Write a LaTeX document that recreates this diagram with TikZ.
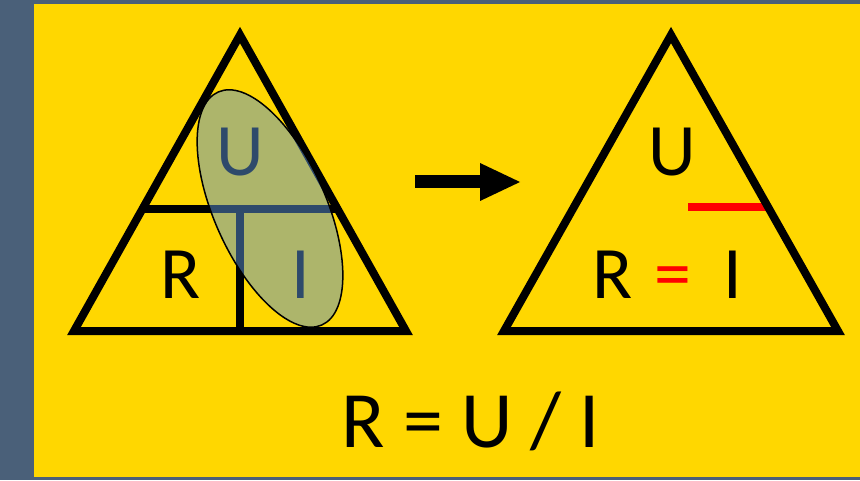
\documentclass[tikz,border=0pt]{standalone}
\usepackage{fontspec}
\usetikzlibrary{shapes.geometric}
\setmainfont{Carlito}
\begin{document}
\begin{tikzpicture}[x=1pt,y=1pt,
  tri/.style={draw=black,line width=8pt,line join=miter},
  divline/.style={draw=black,line width=8pt},
  letter/.style={font=\fontsize{74}{74}\selectfont,inner sep=0pt,anchor=base},
  bigtext/.style={font=\fontsize{80}{80}\selectfont,inner sep=0pt,anchor=base}]
\definecolor{strip}{RGB}{74,96,121}
\definecolor{gold}{RGB}{255,215,0}
\definecolor{ellblue}{RGB}{92,148,214}
\useasboundingbox (0,0) rectangle (860,480);
\fill[strip] (0,0) rectangle (860,480);
\fill[gold] (34,3) rectangle (860,476);
% left triangle
\coordinate (L1) at (74,149);
\coordinate (L2) at (240,445);
\coordinate (L3) at (406,149);
\coordinate (HL) at (142,271);
\coordinate (HR) at (338,271);
\coordinate (VT) at (240,271);
\coordinate (VB) at (240,149);
\draw[tri] (L1) -- (L2) -- (L3) -- cycle;
\draw[divline] (HL) -- (HR);
\draw[divline] (VT) -- (VB);
\node[letter] (lu) at (240,304) {U};
\node[letter] (lr) at (181,182) {R};
\node[letter] (li) at (301,182) {I};
\node[draw=black,line width=1.5pt,fill=ellblue,fill opacity=0.5,ellipse,
      minimum width=112pt,minimum height=255pt,inner sep=0pt,rotate=24] (ell) at (270,271.5) {};
% arrow
\fill[black] (415,292) rectangle (481,305);
\fill[black] (480,317) -- (520,298) -- (480,279) -- cycle;
% right triangle
\coordinate (R1) at (504,149);
\coordinate (R2) at (671,445);
\coordinate (R3) at (838,149);
\coordinate (FL) at (688,273);
\coordinate (FR) at (766,273);
\draw[red,line width=8pt] (FL) -- (FR);
\draw[tri] (R1) -- (R2) -- (R3) -- cycle;
\node[letter] (ru) at (672,304) {U};
\node[letter] (rr) at (613,182) {R};
\node[letter,red] (req) at (673,182) {=};
\node[letter] (ri) at (733,182) {I};
% formula
\node[bigtext] (formula) at (471,33) {R = U / I};
\end{tikzpicture}
\end{document}
